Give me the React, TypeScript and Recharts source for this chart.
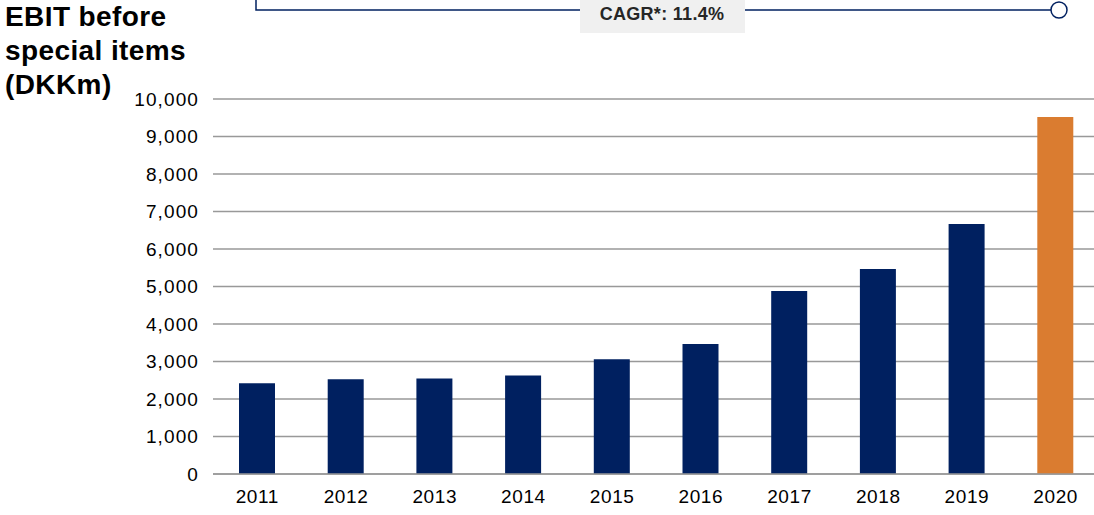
import { Bar, BarChart, CartesianGrid, Cell, XAxis, YAxis } from 'recharts';

const years = ['2011', '2012', '2013', '2014', '2015', '2016', '2017', '2018', '2019', '2020'];
const ebit = [2420, 2530, 2550, 2630, 3060, 3470, 4880, 5470, 6670, 9520];
const yTicks = [0, 1000, 2000, 3000, 4000, 5000, 6000, 7000, 8000, 9000, 10000];

const NAVY = '#002060';
const ORANGE = '#DA7C30';
const FONT = '"Liberation Sans", Arial, sans-serif';

const data = years.map((year, i) => ({ year, ebit: ebit[i] }));

export default function App() {
  return (
    <div
      style={{
        position: 'absolute',
        left: 0,
        top: 0,
        width: 1094,
        height: 515,
        overflow: 'hidden',
        background: '#fff',
        fontFamily: FONT,
      }}
    >
      <div
        style={{
          position: 'absolute',
          left: 5,
          top: 0,
          fontSize: 28,
          lineHeight: '34px',
          fontWeight: 700,
          color: '#000',
          letterSpacing: 0.4,
        }}
      >
        EBIT before
        <br />
        special items
        <br />
        (DKKm)
      </div>

      {/* CAGR bracket */}
      <svg width={1094} height={40} style={{ position: 'absolute', left: 0, top: 0 }}>
        <polyline points="256,0 256,10 1051,10" fill="none" stroke={NAVY} strokeWidth={1.5} />
        <circle cx={1059} cy={10} r={8} fill="#fff" stroke={NAVY} strokeWidth={1.5} />
        <rect x={580} y={0} width={165} height={33} fill="#F0F0F0" />
        <text
          x={662}
          y={20}
          textAnchor="middle"
          fontSize={18}
          fontWeight={700}
          letterSpacing={0.3}
          fill="#262626"
          fontFamily={FONT}
        >
          CAGR*: 11.4%
        </text>
      </svg>

      <BarChart
        width={1100}
        height={515}
        data={data}
        margin={{ top: 99, right: 0, left: 0, bottom: 0 }}
        style={{ fontFamily: FONT }}
      >
        <CartesianGrid stroke="#999" strokeWidth={1.5} vertical={false} />
        <XAxis
          dataKey="year"
          height={41}
          axisLine={{ stroke: '#999', strokeWidth: 1.5 }}
          tickLine={false}
          tickMargin={10}
          tick={{ fill: '#000', fontSize: 19, letterSpacing: 0.6 }}
        />
        <YAxis
          domain={[0, 10000]}
          ticks={yTicks}
          interval={0}
          width={213}
          axisLine={false}
          tickLine={false}
          tickMargin={8}
          tickFormatter={(v: number) => v.toLocaleString('en-US')}
          tick={{ fill: '#000', fontSize: 19, letterSpacing: 1.1 }}
        />
        <Bar dataKey="ebit" barSize={36} isAnimationActive={false}>
          {data.map((d, i) => (
            <Cell key={d.year} fill={i === data.length - 1 ? ORANGE : NAVY} />
          ))}
        </Bar>
      </BarChart>
    </div>
  );
}
